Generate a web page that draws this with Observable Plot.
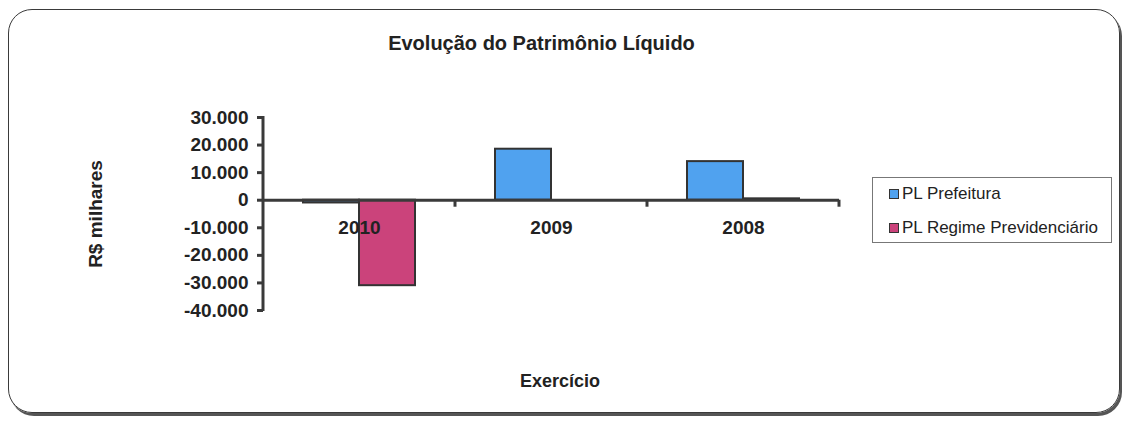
<!DOCTYPE html>
<html><head><meta charset="utf-8">
<script src="https://cdn.jsdelivr.net/npm/d3@7"></script>
<script src="https://cdn.jsdelivr.net/npm/@observablehq/plot@0.6"></script>
<style>
body{margin:0;background:#fff;font-family:"Liberation Sans",Arial,sans-serif;}
#wrap{position:relative;width:1130px;height:423px;overflow:hidden;background:#fff}
#chart{position:absolute;left:0;top:0}
#frame{position:absolute;left:8px;top:9px;width:1110px;height:402px;border:1.5px solid #3a3a3a;border-radius:24px;box-shadow:2px 3px 0 #555;pointer-events:none}
#title{position:absolute;left:0;width:1083px;top:32px;text-align:center;font-weight:bold;font-size:20px;color:#222}
#xtitle{position:absolute;left:0;width:1120px;top:371px;text-align:center;font-weight:bold;font-size:18px;color:#222}
#legend{position:absolute;left:872px;top:177px;width:240px;height:66px;border:1px solid #777;box-sizing:border-box;font-size:17px;color:#222}
.item{position:absolute;left:16px;height:20px;line-height:20px;white-space:nowrap}
.sw{display:inline-block;width:8px;height:8px;border:1.5px solid #333;margin-right:3px;vertical-align:0px}
</style></head>
<body>
<div id="wrap">
  <div id="chart"></div>
  <div id="title">Evolução do Patrimônio Líquido</div>
  <div id="xtitle">Exercício</div>
  <div id="legend"></div>
  <div id="frame"></div>
</div>
<script>
const years = ["2010", "2009", "2008"];
const series = ["PL Prefeitura", "PL Regime Previdenciário"];
const prefeitura = [-1000, 18500, 14000];
const regime = [-31000, 0, 500];
const colors = ["#50a2ef", "#cb437b"];
const yTicks = [30000, 20000, 10000, 0, -10000, -20000, -30000, -40000];
const yLabel = "R$ milhares";

const data = [];
years.forEach((yr, i) => {
  data.push({year: yr, series: series[0], value: prefeitura[i]});
  data.push({year: yr, series: series[1], value: regime[i]});
});

const fmt = d3.formatLocale({decimal: ",", thousands: ".", grouping: [3], currency: ["R$", ""], minus: "-"}).format(",d");

const plot = Plot.plot({
  width: 1130,
  height: 423,
  marginLeft: 262,
  marginRight: 290,
  marginTop: 117,
  marginBottom: 113,
  style: {fontFamily: "'Liberation Sans', Arial, sans-serif", color: "#222", background: "transparent"},
  fx: {domain: years, padding: 0, axis: null},
  x: {domain: series, paddingInner: 0, paddingOuter: 0.7, axis: null},
  y: {domain: [-40000, 30000], axis: null},
  color: {domain: series, range: colors},
  marks: [
    Plot.barY(data, {fx: "year", x: "series", y: "value", fill: "series", stroke: "#333", strokeWidth: 2}),
    Plot.ruleY([0], {stroke: "#3a3a3a", strokeWidth: 3}),
    Plot.axisY({ticks: yTicks, tickFormat: fmt, tickSize: 6, tickPadding: 9, strokeWidth: 3, stroke: "#3a3a3a",
      fontSize: 19, fontWeight: "bold", label: yLabel, labelAnchor: "center", labelArrow: "none", labelOffset: 175}),
    Plot.text(years, {fx: d => d, text: d => d, y: () => 0, dy: 28, fontSize: 19, fontWeight: "bold", fill: "#222"})
  ]
});

document.getElementById("chart").appendChild(plot);

// y axis line and category boundary ticks, positioned from the plot's scales
const svg = d3.select(plot);
const ys = plot.scale("y");
const fxs = plot.scale("fx");
const x0 = fxs.apply(years[0]);
const g = svg.append("g").attr("stroke", "#3a3a3a").attr("stroke-width", 3);
g.append("line").attr("x1", x0).attr("x2", x0)
  .attr("y1", ys.apply(yTicks[0]) - 1).attr("y2", ys.apply(yTicks[yTicks.length - 1]) + 1);
years.forEach(yr => {
  const xb = fxs.apply(yr) + fxs.bandwidth;
  g.append("line").attr("x1", xb).attr("x2", xb).attr("y1", ys.apply(0)).attr("y2", ys.apply(0) + 7);
});

// legend
const leg = document.getElementById("legend");
series.forEach((s, i) => {
  const it = document.createElement("div");
  it.className = "item";
  it.style.top = (6 + i * 34) + "px";
  it.innerHTML = `<span class="sw" style="background:${colors[i]}"></span>${s}`;
  leg.appendChild(it);
});
</script>
</body></html>
